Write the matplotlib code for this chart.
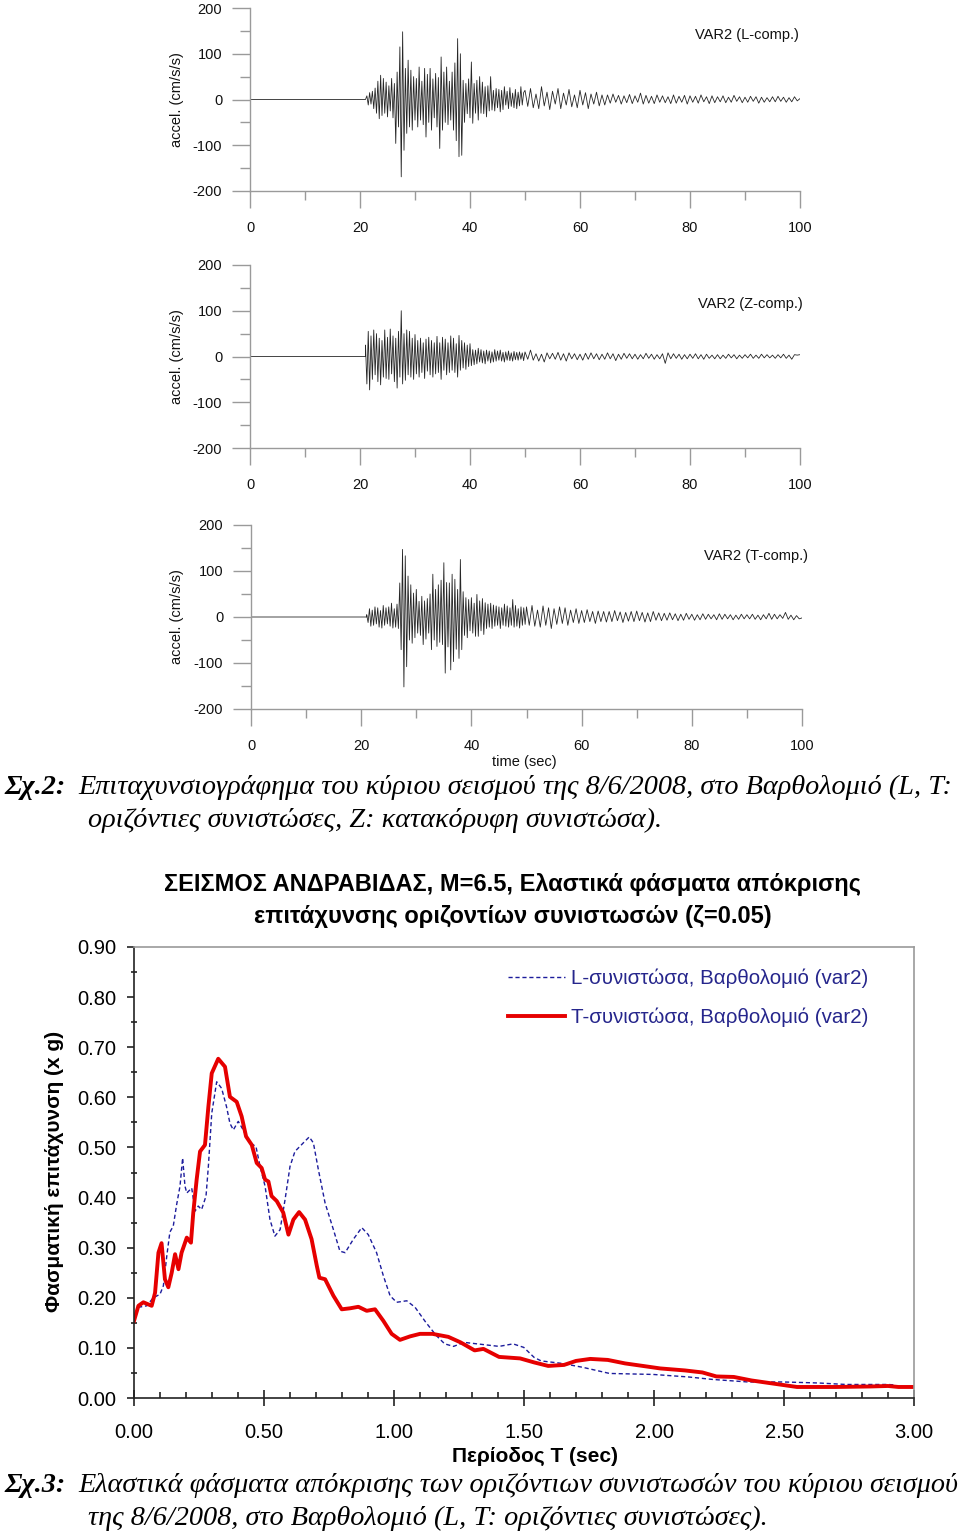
import numpy as np
import matplotlib
matplotlib.use("Agg")
import matplotlib.pyplot as plt
from matplotlib.ticker import MultipleLocator, FormatStrFormatter
from matplotlib.lines import Line2D

plt.rcParams['font.family'] = ['Liberation Sans', 'DejaVu Sans']
plt.rcParams['axes.unicode_minus'] = False

# ---- accelerograms (cm/s/s), 0.25 s samples from 21 s, then 0.5 s samples from 50 s
L_strong = [0, 8, -12, 15, -10, 18, -20, 25,
            -30, 40, -42, 53, -35, 46, -30, 38,
            -38, 30, -25, 46, -40, 35, -96, 60,
            -60, 115, -169, 148, -111, 68, -74, 86,
            -60, 64, -67, 50, -45, 46, -60, 71,
            -45, 40, -55, 68, -82, 55, -50, 68,
            -67, 45, -40, 57, -60, 48, -107, 93,
            -67, 60, -50, 71, -55, 40, -45, 60,
            -67, 80, -90, 133, -125, 100, -122, 42,
            -50, 35, -31, 45, -40, 82, -52, 35,
            -30, 42, -45, 50, -30, 38, -31, 28,
            -38, 30, -25, 50, -23, 20, -25, 24,
            -18, 22, -27, 20, -22, 28, -12, 18,
            -20, 26, -15, 14, -18, 22, -20, 16,
            -14, 28, -12, 15]
L_coda = [20, -15, 24, -18, 12, -20, 28, -14, 16, -22,
          18, -10, 24, -20, 14, -12, 22, -16, 10, -18,
          20, -12, 15, -20, 12, -10, 16, -14, 10, -12,
          10, -8, 12, -6, 9, -10, 8, -7, 11, -9,
          8, -6, 14, -10, 9, -8, 7, -9, 10, -6,
          8, -7, 6, -9, 10, -8, 7, -6, 9, -10,
          8, -6, 7, -8, 10, -5, 6, -9, 8, -7,
          6, -5, 8, -7, 5, -6, 9, -4, 6, -7,
          5, -6, 7, -4, 6, -8, 5, -6, 4, -5,
          6, -5, 7, -4, 5, -6, 4, -5, 6, -3,
          2]

Z_strong = [25, -60, 55, -73, 45, -50, 58, -40,
            50, -55, 40, -62, 35, -45, 58, -48,
            42, -50, 60, -38, 45, -55, 40, -69,
            55, -45, 100, -60, 50, -52, 58, -40,
            55, -45, 40, -50, 48, -38, 35, -45,
            40, -35, 30, -48, 38, -32, 42, -40,
            35, -45, 30, -38, 44, -35, 30, -50,
            42, -30, 38, -40, 30, -35, 45, -30,
            40, -35, 28, -45, 46, -30, 35, -25,
            30, -28, 25, -22, 28, -20, 15, -18,
            14, -16, 18, -12, 15, -14, 12, -16,
            14, -10, 12, -14, 10, -12, 15, -10,
            12, -8, 14, -10, 9, -12, 10, -8,
            12, -9, 8, -10, 11, -7, 9, -8,
            10, -6, 8, -9]
Z_coda = [10, -6, 14, -8, 6, -10, 5, -12, 8, -5,
          7, -6, 9, -8, 6, -10, 8, -5, 6, -7,
          5, -8, 7, -6, 8, -5, 6, -7, 5, -6,
          8, -5, 6, -9, 5, -6, 7, -4, 6, -5,
          5, -6, 4, -5, 7, -4, 5, -6, 4, -5,
          6, -15, 8, -5, 6, -4, 5, -6, 4, -5,
          5, -4, 6, -5, 4, -6, 5, -4, 3, -5,
          4, -5, 3, -4, 5, -3, 4, -5, 3, -4,
          4, -3, 5, -4, 3, -4, 5, -3, 4, -3,
          3, -4, 4, -3, 5, -4, 3, -6, 4, 3,
          4]

T_strong = [5, -12, 18, -20, 15, -18, 22, -15,
            20, -22, 14, -24, 25, -18, 20, -15,
            22, -20, 30, -24, 18, -22, 28, -25,
            74, -71, 147, -152, 133, -108, 89, -50,
            70, -57, 52, -45, 60, -35, 34, -40,
            45, -60, 35, -48, 40, -35, 50, -71,
            93, -50, 60, -64, 70, -55, 80, -60,
            118, -122, 75, -65, 74, -115, 93, -97,
            82, -70, 60, -90, 125, -71, 55, -40,
            42, -45, 38, -30, 42, -35, 30, -42,
            49, -42, 35, -30, 40, -38, 31, -25,
            28, -22, 30, -25, 26, -20, 24, -18,
            22, -25, 20, -18, 28, -20, 24, -22,
            20, -18, 38, -22, 25, -20, 18, -24,
            22, -18, 20, -16]
T_coda = [22, -18, 25, -20, 15, -22, 24, -18, 20, -25,
          18, -16, 22, -14, 20, -18, 15, -12, 18, -14,
          14, -12, 16, -10, 12, -14, 13, -10, 12, -11,
          12, -10, 14, -8, 11, -12, 10, -9, 12, -10,
          13, -8, 10, -11, 9, -10, 12, -7, 9, -8,
          8, -7, 9, -6, 7, -8, 6, -7, 8, -5,
          6, -7, 5, -6, 7, -5, 6, -4, 5, -6,
          7, -5, 6, -4, 5, -6, 4, -5, 6, -4,
          5, -4, 6, -5, 4, -6, 5, -4, 8, -5,
          6, -4, 5, -3, 10, -5, 4, -6, 3, -4,
          -2]

comp_labels = ["VAR2 (L-comp.)", "VAR2 (Z-comp.)", "VAR2 (T-comp.)"]

# ---- response spectra (x g)
T_red = [0.0, 0.017, 0.036, 0.068, 0.081, 0.094, 0.106, 0.119, 0.132, 0.145,
         0.158, 0.171, 0.183, 0.203, 0.219, 0.228, 0.241, 0.254, 0.273, 0.286,
         0.299, 0.324, 0.35, 0.369, 0.395, 0.414, 0.431, 0.453, 0.472, 0.491,
         0.504, 0.517, 0.529, 0.549, 0.574, 0.594, 0.613, 0.635, 0.658, 0.683,
         0.703, 0.713, 0.735, 0.767, 0.799, 0.831, 0.863, 0.895, 0.927, 0.959,
         0.991, 1.023, 1.062, 1.10, 1.148, 1.209, 1.256, 1.31, 1.344, 1.404,
         1.485, 1.539, 1.593, 1.654, 1.70, 1.755, 1.822, 1.889, 1.957, 2.024,
         2.119, 2.186, 2.24, 2.307, 2.375, 2.442, 2.496, 2.55, 2.698, 2.833,
         2.90, 2.94, 3.0]
Sa_red = [0.154, 0.184, 0.191, 0.184, 0.21, 0.29, 0.309, 0.237, 0.221, 0.25,
          0.287, 0.257, 0.29, 0.32, 0.31, 0.37, 0.436, 0.492, 0.505, 0.581,
          0.648, 0.677, 0.661, 0.601, 0.591, 0.562, 0.522, 0.505, 0.469, 0.459,
          0.436, 0.432, 0.403, 0.393, 0.37, 0.326, 0.356, 0.371, 0.356, 0.317,
          0.264, 0.24, 0.237, 0.204, 0.177, 0.179, 0.182, 0.174, 0.177, 0.154,
          0.128, 0.116, 0.123, 0.128, 0.128, 0.122, 0.111, 0.095, 0.098, 0.082,
          0.079, 0.071, 0.064, 0.066, 0.074, 0.078, 0.076, 0.069, 0.064, 0.059,
          0.055, 0.051, 0.043, 0.042, 0.035, 0.030, 0.026, 0.022, 0.022, 0.023,
          0.024, 0.022, 0.022]

T_blue = [0.0, 0.017, 0.049, 0.074, 0.1, 0.113, 0.126, 0.138, 0.151, 0.164,
          0.177, 0.187, 0.196, 0.203, 0.222, 0.235, 0.247, 0.26, 0.277, 0.286,
          0.299, 0.318, 0.337, 0.356, 0.369, 0.382, 0.401, 0.42, 0.446, 0.469,
          0.485, 0.504, 0.523, 0.542, 0.562, 0.581, 0.6, 0.619, 0.651, 0.674,
          0.69, 0.709, 0.735, 0.767, 0.792, 0.812, 0.844, 0.876, 0.901, 0.933,
          0.959, 0.985, 1.01, 1.049, 1.081, 1.121, 1.162, 1.195, 1.229, 1.27,
          1.337, 1.404, 1.458, 1.499, 1.539, 1.566, 1.647, 1.728, 1.829, 1.997,
          2.132, 2.226, 2.361, 2.496, 2.631, 2.739, 2.90, 2.927]
Sa_blue = [0.154, 0.181, 0.184, 0.20, 0.207, 0.224, 0.283, 0.331, 0.343, 0.386,
           0.423, 0.479, 0.423, 0.409, 0.419, 0.373, 0.383, 0.376, 0.403, 0.462,
           0.568, 0.631, 0.618, 0.581, 0.548, 0.535, 0.552, 0.535, 0.509, 0.502,
           0.462, 0.423, 0.356, 0.323, 0.336, 0.396, 0.462, 0.492, 0.509, 0.521,
           0.509, 0.456, 0.389, 0.336, 0.293, 0.29, 0.317, 0.34, 0.326, 0.29,
           0.244, 0.204, 0.191, 0.194, 0.181, 0.152, 0.125, 0.108, 0.103, 0.111,
           0.107, 0.103, 0.108, 0.101, 0.081, 0.074, 0.069, 0.061, 0.049, 0.047,
           0.042, 0.037, 0.032, 0.032, 0.030, 0.027, 0.027, 0.026]

leg_L = "L-συνιστώσα, Βαρθολομιό (var2)"
leg_T = "T-συνιστώσα, Βαρθολομιό (var2)"

W, H = 960, 1537


def fx(x):
    return x / W


def fy(y):
    return 1 - y / H


fig = plt.figure(figsize=(9.6, 15.37), dpi=100)


def axes_px(left, top, right, bottom):
    return fig.add_axes([fx(left), fy(bottom), (right - left) / W, (bottom - top) / H])


def trace(strong, coda):
    t = np.concatenate([[0.0, 21.0],
                        21.0 + 0.25 * np.arange(len(strong)),
                        50.0 + 0.5 * np.arange(len(coda))])
    a = np.concatenate([[0, 0], strong, coda])
    return t, a


# ---- top three accelerograms
grey = '#9a9a9a'
panels = [(L_strong, L_coda, 8, 191, 250, 800, 35, 799),
          (Z_strong, Z_coda, 265, 448, 250, 800, 304, 803),
          (T_strong, T_coda, 525, 709, 251, 802, 556, 808)]
for i, (s, c, top, bot, left, right, ly, lx) in enumerate(panels):
    ax = axes_px(left, top, right, bot)
    t, a = trace(s, c)
    ax.plot(t, a, color='#262626', lw=0.6)
    ax.set_xlim(0, 100)
    ax.set_ylim(-200, 200)
    ax.set_facecolor('none')
    for sp in ['top', 'right']:
        ax.spines[sp].set_visible(False)
    for sp in ['left', 'bottom']:
        ax.spines[sp].set_color(grey)
        ax.spines[sp].set_linewidth(1.0)
    ax.xaxis.set_major_locator(MultipleLocator(20))
    ax.xaxis.set_minor_locator(MultipleLocator(10))
    ax.yaxis.set_major_locator(MultipleLocator(100))
    ax.yaxis.set_minor_locator(MultipleLocator(50))
    ax.tick_params(axis='x', which='major', direction='out', length=12.5, width=1,
                   color=grey, labelsize=10.5, pad=9, labelcolor='#111111')
    ax.tick_params(axis='x', which='minor', direction='out', length=6.5, width=1, color=grey)
    ax.tick_params(axis='y', which='major', direction='out', length=13, width=1,
                   color=grey, labelsize=10.5, pad=7, labelcolor='#111111')
    ax.tick_params(axis='y', which='minor', direction='out', length=7, width=1, color=grey)
    fig.text(fx(177), fy((top + bot) / 2), "accel. (cm/s/s)", rotation=90,
             ha='center', va='center', fontsize=10.5, color='#111111')
    fig.text(fx(lx), fy(ly), comp_labels[i], ha='right', va='center',
             fontsize=10.5, color='#111111')

fig.text(fx(524), fy(762), "time (sec)", ha='center', va='center', fontsize=10.5, color='#111111')

# ---- caption 2
serif = ['Liberation Serif', 'DejaVu Serif']
cap_fs = 20.3
fig.text(fx(4), fy(787), "Σχ.2:", family=serif, style='italic', weight='bold',
         fontsize=cap_fs, ha='left', va='center')
fig.text(fx(78), fy(787), "Επιταχυνσιογράφημα του κύριου σεισμού της 8/6/2008, στο Βαρθολομιό (L, T:",
         family=serif, style='italic', fontsize=cap_fs, ha='left', va='center')
fig.text(fx(88), fy(820), "οριζόντιες συνιστώσες, Z: κατακόρυφη συνιστώσα).",
         family=serif, style='italic', fontsize=cap_fs, ha='left', va='center')

# ---- response spectra chart
ax = axes_px(134, 947, 914, 1398)
ax.plot(T_blue, Sa_blue, color='#1c1c9c', lw=1.0, ls=(0, (3, 2)), label=leg_L)
ax.plot(T_red, Sa_red, color='#e60000', lw=2.8, label=leg_T)
ax.set_xlim(0, 3)
ax.set_ylim(0, 0.9)
ax.spines['left'].set_color('#222222')
ax.spines['bottom'].set_color('#222222')
ax.spines['top'].set_color('#9a9a9a')
ax.spines['right'].set_color('#9a9a9a')
for sp in ax.spines.values():
    sp.set_linewidth(1.2)
ax.xaxis.set_major_locator(MultipleLocator(0.5))
ax.xaxis.set_minor_locator(MultipleLocator(0.1))
ax.yaxis.set_major_locator(MultipleLocator(0.1))
ax.yaxis.set_minor_locator(MultipleLocator(0.05))
ax.xaxis.set_major_formatter(FormatStrFormatter('%.2f'))
ax.yaxis.set_major_formatter(FormatStrFormatter('%.2f'))
ax.tick_params(axis='x', which='major', direction='inout', length=12, width=1.2,
               color='#222222', labelsize=14.5, pad=12)
ax.tick_params(axis='x', which='minor', direction='in', length=4, width=1.2, color='#222222')
ax.tick_params(axis='y', which='major', direction='out', length=5, width=1.2,
               color='#222222', labelsize=14.5, pad=8)
ax.tick_params(axis='y', which='minor', direction='inout', length=5, width=1.2, color='#222222')

handles = [Line2D([], [], color='#1c1c9c', lw=1.0, ls=(0, (3, 2))),
           Line2D([], [], color='#e60000', lw=2.8)]
ax.legend(handles, [leg_L, leg_T], loc='upper left', bbox_to_anchor=(0.4795, 0.952),
          frameon=False, fontsize=14.8, handlelength=2.75, handletextpad=0.3,
          labelspacing=0.95, borderpad=0, borderaxespad=0, labelcolor='#26268c')

fig.text(fx(512), fy(885), "ΣΕΙΣΜΟΣ ΑΝΔΡΑΒΙΔΑΣ, Μ=6.5, Ελαστικά φάσματα απόκρισης",
         ha='center', va='center', fontsize=17, weight='bold')
fig.text(fx(513), fy(917), "επιτάχυνσης οριζοντίων συνιστωσών (ζ=0.05)",
         ha='center', va='center', fontsize=17, weight='bold')
fig.text(fx(535), fy(1456), "Περίοδος T (sec)", ha='center', va='center',
         fontsize=15, weight='bold')
fig.text(fx(55), fy(1171), "Φασματική επιτάχυνση (x g)", rotation=90, ha='center',
         va='center', fontsize=15, weight='bold')

# ---- caption 3
fig.text(fx(4), fy(1485), "Σχ.3:", family=serif, style='italic', weight='bold',
         fontsize=cap_fs, ha='left', va='center')
fig.text(fx(78), fy(1485), "Ελαστικά φάσματα απόκρισης των οριζόντιων συνιστωσών του κύριου σεισμού",
         family=serif, style='italic', fontsize=cap_fs, ha='left', va='center')
fig.text(fx(88), fy(1518), "της 8/6/2008, στο Βαρθολομιό (L, T: οριζόντιες συνιστώσες).",
         family=serif, style='italic', fontsize=cap_fs, ha='left', va='center')

fig.savefig("out.png", dpi=100)
